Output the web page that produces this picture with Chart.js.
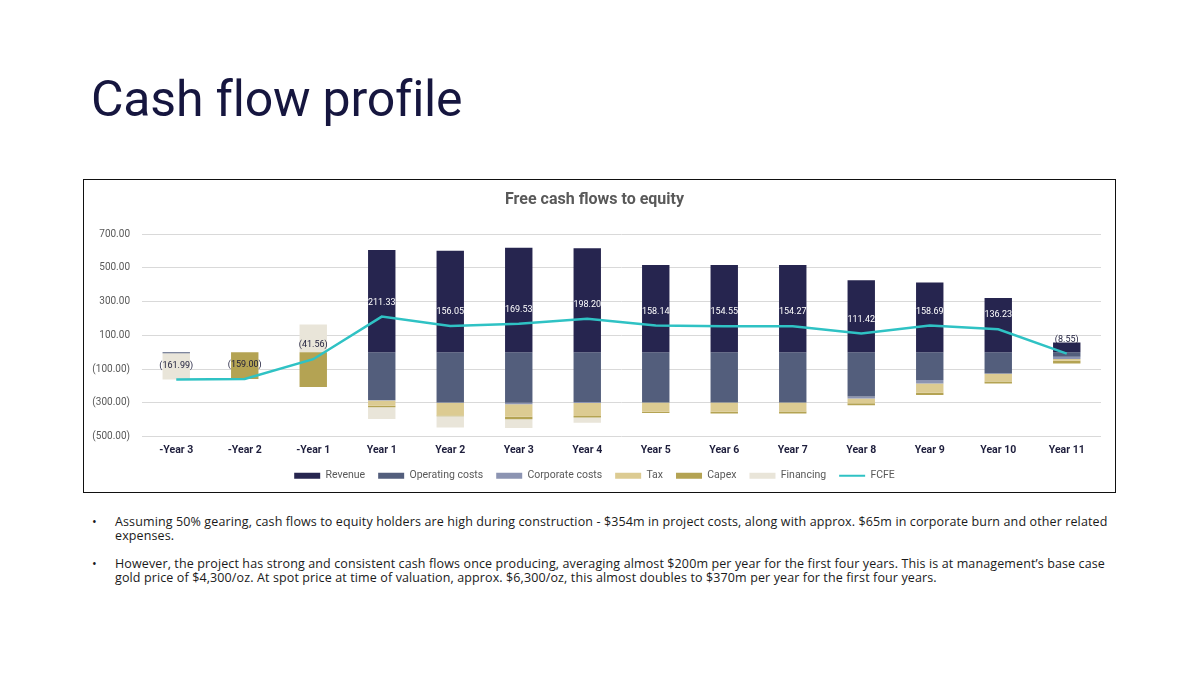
<!DOCTYPE html>
<html>
<head>
<meta charset="utf-8">
<script src="https://cdn.jsdelivr.net/npm/chart.js@4.4.1/dist/chart.umd.min.js"></script>
<style>
  html, body { margin: 0; padding: 0; background: #fff; }
  body { width: 1200px; height: 675px; position: relative; overflow: hidden; font-family: "Open Sans", "Liberation Sans", sans-serif; }
  h1 {
    position: absolute; left: 91px; top: 70px; margin: 0;
    font-family: Roboto, "Liberation Sans", sans-serif; font-weight: 400;
    font-size: 50px; color: #16163f; letter-spacing: -0.2px;
  }
  .chart-box {
    position: absolute; left: 83px; top: 179px; width: 1033px; height: 314px;
    border: 1.3px solid #111; box-sizing: border-box;
  }
  .notes { position: absolute; left: 92px; top: 515px; font-size: 12.5px; letter-spacing: 0.12px; color: #1a1a1a; line-height: 14px; }
  .notes .item { position: relative; padding-left: 23px; margin-bottom: 14px; white-space: nowrap; }
  .notes .item::before { content: "\2022"; position: absolute; left: 0; top: 0; }
</style>
</head>
<body>
<h1>Cash flow profile</h1>
<div class="chart-box"><canvas id="fcfeChart"></canvas></div>
<div class="notes">
  <div class="item">Assuming 50% gearing, cash flows to equity holders are high during construction - $354m in project costs, along with approx. $65m in corporate burn and other related<br>expenses.</div>
  <div class="item">However, the project has strong and consistent cash flows once producing, averaging almost $200m per year for the first four years. This is at management’s base case<br>gold price of $4,300/oz. At spot price at time of valuation, approx. $6,300/oz, this almost doubles to $370m per year for the first four years.</div>
</div>
<script>
const categories = ['-Year 3', '-Year 2', '-Year 1', 'Year 1', 'Year 2', 'Year 3', 'Year 4', 'Year 5', 'Year 6', 'Year 7', 'Year 8', 'Year 9', 'Year 10', 'Year 11'];
const revenue = [0, 0, 0, 607, 602, 619, 617, 518, 518, 518, 427, 413, 322, 58];
const operatingCosts = [-6, 0, 0, -283, -298, -300, -296, -298, -298, -298, -262, -165, -126, -27];
const corporateCosts = [0, 0, 0, -4, -2, -8, -5, 0, 0, 0, -12, -20, -2, -13];
const tax = [0, 0, 0, -30, -75, -75, -77, -55, -55, -53, -29, -56, -46, -10];
const capex = [0, -159, -206.5, -10, -5, -14, -9, -7, -10, -13, -12, -13, -12, -16.5];
const financing = [-156, 0, 165, -68.7, -66, -52, -32, 0, 0, 0, 0, 0, 0, 0];
const fcfe = [-161.99, -159.00, -41.56, 211.33, 156.05, 169.53, 198.20, 158.14, 154.55, 154.27, 111.42, 158.69, 136.23, -8.55];
const yTicks = [-500, -300, -100, 100, 300, 500, 700];

function fmt(v) {
    return v < 0 ? '(' + Math.abs(v).toFixed(2) + ')' : v.toFixed(2);
}

// FCFE value labels sitting just above the line points
const fcfeLabels = {
    id: 'fcfeLabels',
    afterDatasetsDraw(chart) {
        const ctx = chart.ctx;
        const meta = chart.getDatasetMeta(6);
        ctx.save();
        ctx.font = '9px Roboto, "Liberation Sans", sans-serif';
        ctx.textAlign = 'center';
        ctx.textBaseline = 'middle';
        meta.data.forEach((pt, i) => {
            const v = fcfe[i];
            ctx.fillStyle = v < 0 ? '#1c1c3a' : '#ffffff';
            ctx.fillText(fmt(v), pt.x, pt.y - 14);
        });
        ctx.restore();
    }
};

const barCommon = { type: 'bar', order: 1, barPercentage: 0.4, categoryPercentage: 1, borderWidth: 0 };

new Chart(document.getElementById('fcfeChart').getContext('2d'), {
    data: {
        labels: categories,
        datasets: [
            { ...barCommon, label: 'Revenue', data: revenue, backgroundColor: '#26254f' },
            { ...barCommon, label: 'Operating costs', data: operatingCosts, backgroundColor: '#535e7c' },
            { ...barCommon, label: 'Corporate costs', data: corporateCosts, backgroundColor: '#8c94b2' },
            { ...barCommon, label: 'Tax', data: tax, backgroundColor: '#dccb92' },
            { ...barCommon, label: 'Capex', data: capex, backgroundColor: '#b4a353' },
            { ...barCommon, label: 'Financing', data: financing, backgroundColor: '#e9e5d9' },
            {
                type: 'line', order: 0, label: 'FCFE', data: fcfe,
                borderColor: '#2fc2c4', backgroundColor: '#2fc2c4',
                borderWidth: 2.5, pointRadius: 0, tension: 0, fill: false
            }
        ]
    },
    options: {
        responsive: true,
        maintainAspectRatio: false,
        animation: false,
        layout: { padding: { left: 4, right: 14, top: 0, bottom: 1 } },
        plugins: {
            title: {
                display: true,
                text: 'Free cash flows to equity',
                color: '#595959',
                font: { family: 'Roboto', size: 16, weight: 'bold' },
                padding: { top: 10, bottom: 25 }
            },
            legend: {
                position: 'bottom',
                labels: {
                    color: '#595959',
                    font: { family: 'Roboto', size: 10.5 },
                    usePointStyle: true,
                    pointStyleWidth: 26,
                    boxHeight: 6,
                    padding: 13,
                    sort: (a, b) => a.datasetIndex - b.datasetIndex,
                    generateLabels(chart) {
                        const items = Chart.defaults.plugins.legend.labels.generateLabels(chart);
                        items.forEach(it => {
                            if (it.datasetIndex === 6) {
                                it.pointStyle = 'line';
                                it.lineWidth = 2;
                                it.strokeStyle = '#2fc2c4';
                            } else {
                                it.pointStyle = 'rect';
                                it.lineWidth = 0;
                            }
                        });
                        return items;
                    }
                }
            },
            tooltip: { enabled: false }
        },
        scales: {
            x: {
                stacked: true,
                afterFit(scale) { scale.height = 21; },
                grid: { display: false, drawTicks: false },
                border: { display: false },
                ticks: { color: '#1e1e3c', font: { family: 'Roboto', size: 10.5, weight: 'bold' }, padding: 8 }
            },
            y: {
                stacked: true,
                min: yTicks[0],
                max: yTicks[yTicks.length - 1],
                afterBuildTicks(scale) { scale.ticks = yTicks.map(v => ({ value: v })); },
                afterFit(scale) { scale.width = 54; },
                grid: { color: '#d9d9d9', lineWidth: 1, drawTicks: false },
                border: { display: false },
                ticks: {
                    color: '#595959',
                    font: { family: 'Roboto', size: 10 },
                    padding: 12,
                    callback: v => fmt(v)
                }
            }
        }
    },
    plugins: [fcfeLabels]
});
</script>
</body>
</html>
